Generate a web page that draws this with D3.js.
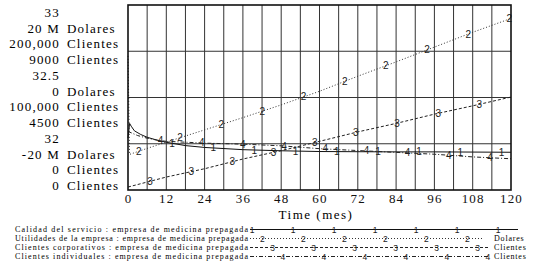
<!DOCTYPE html>
<html>
<head>
<meta charset="utf-8">
<script src="https://cdn.jsdelivr.net/npm/d3@7"></script>
<style>
  body { margin: 0; background: #fff; }
  svg { display: block; }
  .serif { font-family: "Liberation Serif", "Times New Roman", "DejaVu Serif", serif; }
  .mark { font-family: "Liberation Sans", Arial, sans-serif; }
</style>
</head>
<body>
<div id="vis-container"></div>
<script>
const width = 544,
      height = 266,
      plot = {left: 128, right: 511, top: 5, bottom: 190};

// ******* Data *******
// Calidad del servicio (dimensionless)
var calidadT = [0, 0.5, 1, 2, 4, 6, 9, 12, 18, 24, 36, 48, 60, 72, 84, 96, 108, 120];
var calidadV = [32.28, 32.36, 32.345, 32.32, 32.30, 32.285, 32.27, 32.258, 32.24, 32.23, 32.218, 32.212, 32.208, 32.207, 32.206, 32.206, 32.205, 32.204];

// Utilidades de la empresa (Dolares)
var utilidadesT = [0, 0.5, 6, 12, 24, 36, 48, 60, 72, 84, 96, 108, 120];
var utilidadesV = [9.0e6, -12.3e6, -11.0e6, -9.65e6, -7.0e6, -4.35e6, -1.6e6, 1.35e6, 4.6e6, 7.7e6, 10.9e6, 14.1e6, 17.1e6];

// Clientes corporativos
var corporativosT = [0, 12, 24, 36, 48, 60, 72, 84, 96, 108, 120];
var corporativosV = [3200, 14000, 23000, 33500, 42500, 52600, 62800, 72000, 82000, 91000, 100500];

// Clientes individuales
var individualesT = [0, 3, 6, 10, 12, 24, 36, 48, 60, 72, 84, 96, 108, 120];
var individualesV = [2850, 2650, 2520, 2400, 2370, 2280, 2230, 2150, 2010, 1920, 1830, 1740, 1610, 1520];

// Axis labels, one block per grid position (top, middle, bottom)
var topLabels = [["33", ""], ["20 M", "Dolares"], ["200,000", "Clientes"], ["9000", "Clientes"]];
var midLabels = [["32.5", ""], ["0", "Dolares"], ["100,000", "Clientes"], ["4500", "Clientes"]];
var bottomLabels = [["32", ""], ["-20 M", "Dolares"], ["0", "Clientes"], ["0", "Clientes"]];
var timeTicks = [0, 12, 24, 36, 48, 60, 72, 84, 96, 108, 120];

var legendNames = [
    "Calidad del servicio : empresa de medicina prepagada",
    "Utilidades de la empresa : empresa de medicina prepagada",
    "Clientes corporativos : empresa de medicina prepagada",
    "Clientes individuales : empresa de medicina prepagada"
];
var legendUnits = ["", "Dolares", "Clientes", "Clientes"];

// ******* Scales *******
var x = d3.scaleLinear().domain([0, 120]).range([plot.left, plot.right]);
var yCalidad = d3.scaleLinear().domain([32, 33]).range([plot.bottom, plot.top]);
var yUtilidades = d3.scaleLinear().domain([-20e6, 20e6]).range([plot.bottom, plot.top]);
var yCorporativos = d3.scaleLinear().domain([0, 200000]).range([plot.bottom, plot.top]);
var yIndividuales = d3.scaleLinear().domain([0, 9000]).range([plot.bottom, plot.top]);

// series definitions: marker offset/period are in months (style only)
var series = [
    {num: "1", t: calidadT, v: calidadV, y: yCalidad, dash: null, color: "#111", offset: 13.8},
    {num: "2", t: utilidadesT, v: utilidadesV, y: yUtilidades, dash: "1,2", color: "#333", offset: 3.4},
    {num: "3", t: corporativosT, v: corporativosV, y: yCorporativos, dash: "3,2", color: "#222", offset: 6.9},
    {num: "4", t: individualesT, v: individualesV, y: yIndividuales, dash: "4,2,1,2", color: "#222", offset: 10.2}
];
const markerPeriod = 12.9;

var svg = d3.select("#vis-container").append("svg")
    .attr("width", width)
    .attr("height", height);

// ******* Grid *******
var grid = svg.append("g");
d3.range(6, 120, 6).forEach(function(t) {
    grid.append("line")
        .attr("x1", x(t)).attr("x2", x(t))
        .attr("y1", plot.top).attr("y2", plot.bottom)
        .attr("stroke", "#333").attr("stroke-width", 1);
});
[0.25, 0.5, 0.75].forEach(function(f) {
    var yy = yCalidad(32 + f);
    grid.append("line")
        .attr("x1", plot.left).attr("x2", plot.right)
        .attr("y1", yy).attr("y2", yy)
        .attr("stroke", "#333").attr("stroke-width", 1);
});

// ******* Lines *******
function pointsOf(s) {
    return s.t.map(function(t, i) { return [x(t), s.y(s.v[i])]; });
}
var line = d3.line();

series.forEach(function(s) {
    svg.append("path")
        .attr("d", line(pointsOf(s)))
        .attr("fill", "none")
        .attr("stroke", s.color)
        .attr("stroke-width", 1)
        .attr("stroke-dasharray", s.dash);
});

// number markers placed along each line
series.forEach(function(s) {
    for (var mt = s.offset; mt <= 120; mt += markerPeriod) {
        var i = d3.bisectRight(s.t, mt);
        var t0 = s.t[i - 1], t1 = s.t[Math.min(i, s.t.length - 1)];
        var v0 = s.v[i - 1], v1 = s.v[Math.min(i, s.v.length - 1)];
        var v = t1 == t0 ? v0 : v0 + (v1 - v0) * (mt - t0) / (t1 - t0);
        svg.append("text")
            .attr("class", "mark")
            .attr("x", x(mt))
            .attr("y", s.y(v) + 3.5)
            .attr("text-anchor", "middle")
            .attr("font-size", 10)
            .attr("fill", "#222")
            .text(s.num);
    }
});

// ******* Frame *******
svg.append("rect")
    .attr("x", plot.left).attr("y", plot.top)
    .attr("width", plot.right - plot.left)
    .attr("height", plot.bottom - plot.top)
    .attr("fill", "none")
    .attr("stroke", "#111")
    .attr("stroke-width", 1.6);

// ******* Left labels *******
function drawBlock(labels, startY) {
    labels.forEach(function(l, i) {
        var yy = startY + i * 15.6;
        svg.append("text")
            .attr("class", "serif")
            .attr("x", 60).attr("y", yy)
            .attr("text-anchor", "end")
            .attr("font-size", 13)
            .attr("letter-spacing", 1.2)
            .text(l[0]);
        svg.append("text")
            .attr("class", "serif")
            .attr("x", 67).attr("y", yy)
            .attr("font-size", 13)
            .attr("letter-spacing", 1.2)
            .text(l[1]);
    });
}
drawBlock(topLabels, 17);
drawBlock(midLabels, 80);
drawBlock(bottomLabels, 143);

// ******* X axis *******
var xAxis = svg.append("g")
    .attr("transform", `translate(0 ${plot.bottom})`)
    .call(d3.axisBottom(x).tickValues(timeTicks).tickSize(0).tickPadding(4));
xAxis.select(".domain").remove();
xAxis.attr("font-family", null);
xAxis.selectAll("text")
    .attr("class", "serif")
    .attr("font-size", 13)
    .attr("letter-spacing", 1.2)
    .attr("fill", "#111");

svg.append("text")
    .attr("class", "serif")
    .attr("x", 316).attr("y", 219)
    .attr("text-anchor", "middle")
    .attr("font-size", 13)
    .attr("letter-spacing", 1.5)
    .text("Time (mes)");

// ******* Legend *******
var legendRows = [229.5, 238.5, 247.5, 256.5];
var legendEnds = [518, 484, 488, 488];
series.forEach(function(s, i) {
    var ly = legendRows[i];
    svg.append("text")
        .attr("class", "serif")
        .attr("x", 15).attr("y", ly + 2.5)
        .attr("font-size", 8)
        .attr("textLength", 233).attr("lengthAdjust", "spacing")
        .text(legendNames[i]);
    svg.append("line")
        .attr("x1", 250).attr("x2", legendEnds[i])
        .attr("y1", ly).attr("y2", ly)
        .attr("stroke", s.color).attr("stroke-width", 1)
        .attr("stroke-dasharray", s.dash);
    for (var mx = 252 + i * 10.3; mx <= legendEnds[i]; mx += 41) {
        svg.append("text")
            .attr("class", "mark")
            .attr("x", mx).attr("y", ly + 3)
            .attr("text-anchor", "middle")
            .attr("font-size", 8.5)
            .attr("fill", "#222")
            .text(s.num);
    }
    svg.append("text")
        .attr("class", "serif")
        .attr("x", 494).attr("y", ly + 2.5)
        .attr("font-size", 8)
        .attr("letter-spacing", 0.8)
        .text(legendUnits[i]);
});
</script>
</body>
</html>
